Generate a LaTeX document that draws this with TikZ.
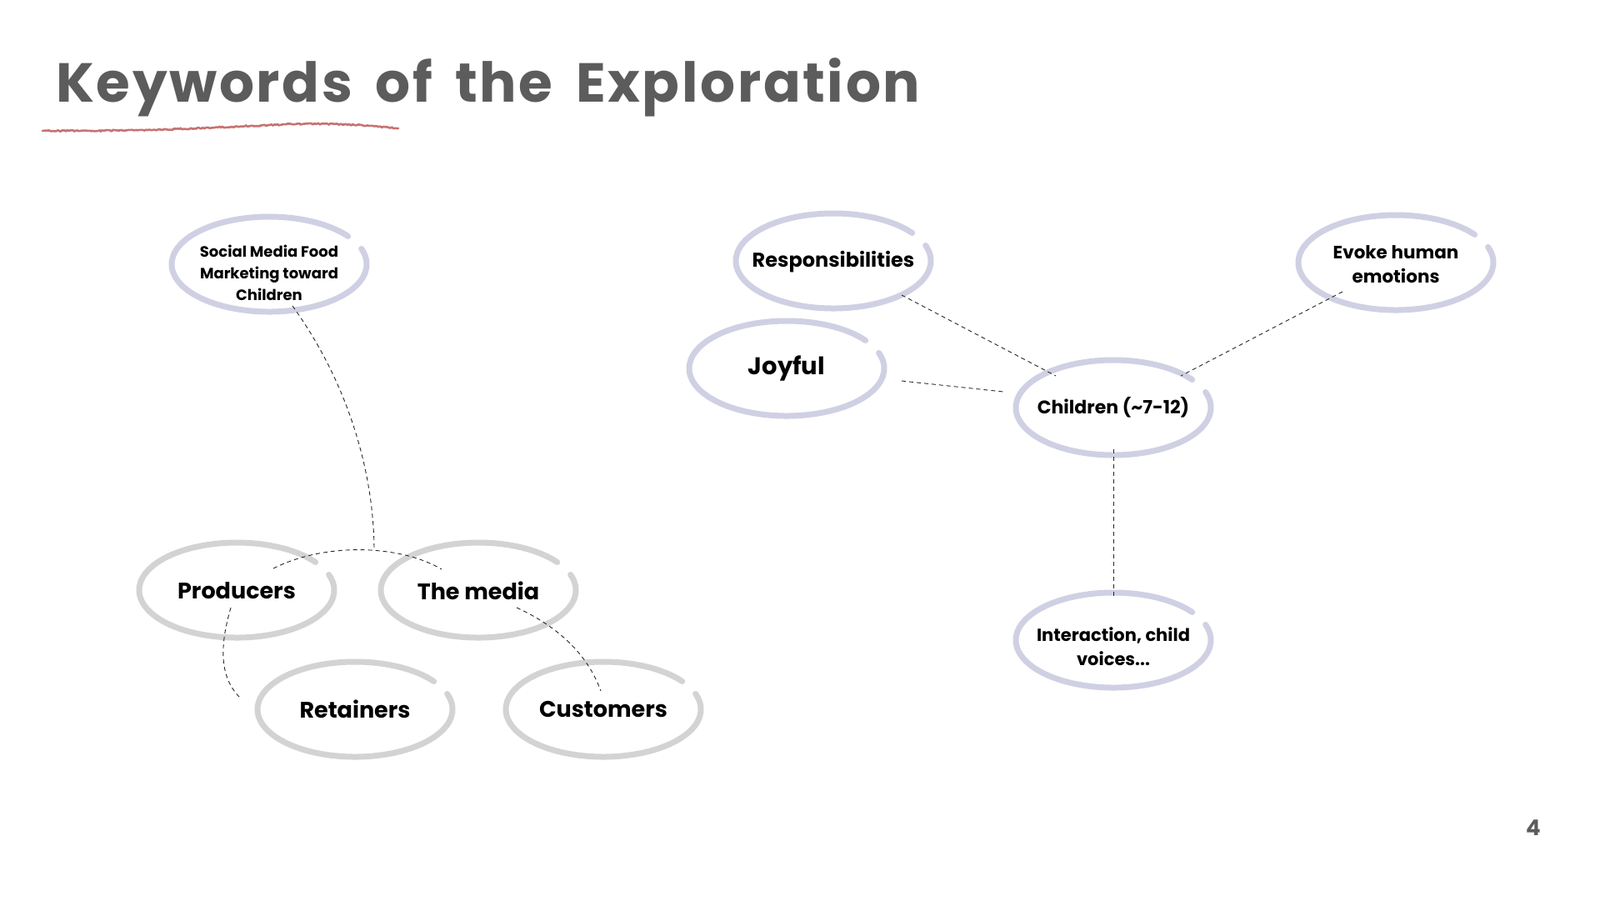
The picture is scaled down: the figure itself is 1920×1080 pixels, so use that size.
\documentclass[tikz,border=0pt]{standalone}
\usepackage{fontspec}
\setmainfont{Poppins}
\newfontfamily\titlefont[LetterSpace=4, WordSpace=1.65]{Poppins}
\usetikzlibrary{shapes.geometric,calc,decorations.pathmorphing}
\definecolor{lav}{RGB}{208,208,228}
\definecolor{ringgray}{RGB}{211,211,211}
\definecolor{titlegray}{RGB}{92,92,92}
\definecolor{redline}{RGB}{190,90,90}
\newcommand\kwring[2]{\draw[#2, line width=7pt, line cap=round] #1 ++(-19:117 and 57) arc[start angle=-19, end angle=324, x radius=117, y radius=57];}
\begin{document}
\begin{tikzpicture}[x=1pt,y=-1pt,
  kw/.style={inner sep=0pt, align=center, text=black, font=\bfseries\fontsize{#1}{#1}\selectfont},
  kw/.default=27,
  conn/.style={draw=black!85, line width=0.9pt, dash pattern=on 5pt off 4pt}]
\fill[white] (0,0) rectangle (1920,1080);
\useasboundingbox (0,0) rectangle (1920,1080);

% title
\node[anchor=base west, inner sep=0pt, text=titlegray, font=\titlefont\bfseries\fontsize{66}{80}\selectfont] (title) at (67,122) {Keywords of the Exploration};
\draw[redline, line width=2.6pt, line cap=round, opacity=0.85,
  decorate, decoration={random steps, segment length=2pt, amplitude=0.8pt}]
  (51,157) .. controls (250,158) and (330,146) .. (405,149) .. controls (440,150) and (460,153) .. (478,154);

% nodes
\node[kw=18, font=\bfseries\fontsize{18}{26}\selectfont] (smf) at (323,327) {Social Media Food\\Marketing toward\\Children};
\node[kw] (prod) at (284,709) {Producers};
\node[kw] (media) at (574,709) {The media};
\node[kw] (ret) at (426,851) {Retainers};
\node[kw] (cust) at (724,851) {Customers};
\node[kw=24] (resp) at (1000,314) {Responsibilities};
\node[kw=29] (joy) at (944,442) {Joyful};
\node[kw=22] (child) at (1336,489) {Children (\textasciitilde7-12)};
\node[kw=21, font=\bfseries\fontsize{21.5}{29}\selectfont] (evoke) at (1675,317) {Evoke human\\emotions};
\node[kw=21, font=\bfseries\fontsize{21}{29}\selectfont] (inter) at (1336,776) {Interaction, child\\voices...};
\node[inner sep=0pt, text=titlegray, font=\bfseries\fontsize{26}{30}\selectfont] (pg) at (1840,993) {4};

% rings
\kwring{($(smf.center)+(0,-10)$)}{lav}
\kwring{($(prod.center)+(0,-1)$)}{ringgray}
\kwring{($(media.center)+(0,-1)$)}{ringgray}
\kwring{(ret.center)}{ringgray}
\kwring{(cust.center)}{ringgray}
\kwring{($(resp.center)+(0,-1)$)}{lav}
\kwring{(joy.center)}{lav}
\kwring{(child.center)}{lav}
\kwring{($(evoke.center)+(0,-2)$)}{lav}
\kwring{($(inter.center)+(0,-8)$)}{lav}

% connectors
\coordinate (jn) at (449,661);
\draw[conn] ($(smf.center)+(28,40)$) .. controls (425,470) and (449,580) .. (jn);
\draw[conn] ($(prod.center)+(44,-27)$) .. controls ($(jn)+(-60,-10)$) and ($(jn)+(30,-8)$) .. ($(media.center)+(-44,-26)$);
\draw[conn] ($(prod.center)+(-7,20)$) .. controls (262,780) and (265,815) .. ($(ret.center)+(-137,-13)$);
\draw[conn] ($(media.center)+(46,20)$) .. controls (670,752) and (705,785) .. ($(cust.center)+(-3,-22)$);
\draw[conn] ($(resp.center)+(82,40)$) -- ($(child.center)+(-69,-38)$);
\draw[conn] ($(joy.center)+(138,15)$) -- ($(child.center)+(-132,-19)$);
\draw[conn] ($(evoke.center)+(-64,33)$) -- ($(child.center)+(81,-38)$);
\draw[conn] ($(child.center)+(0,50)$) -- ($(inter.center)+(0,-60)$);
\end{tikzpicture}
\end{document}
